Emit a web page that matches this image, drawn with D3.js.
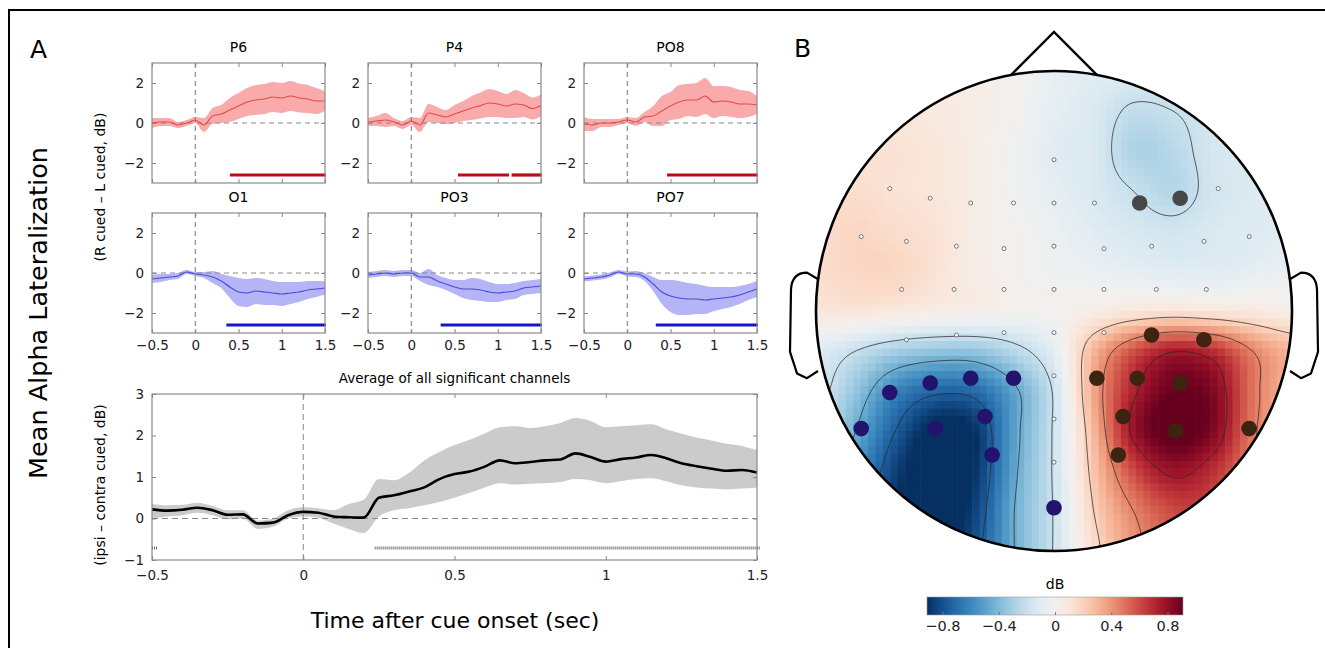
<!DOCTYPE html>
<html>
<head>
<meta charset="utf-8">
<script src="https://cdn.jsdelivr.net/npm/d3@7"></script>
<style>
body { margin: 0; background: #fff; }
svg { display: block; font-family: 'DejaVu Sans', Lato, sans-serif; }
</style>
</head>
<body>
<svg id="fig" width="1325" height="648"></svg>
<script>
// ---- panel A: single channels (time in s, dB) ----
var tSmall = [-0.5, -0.4, -0.3, -0.2, -0.1, 0, 0.1, 0.2, 0.3, 0.4, 0.5, 0.6, 0.7, 0.8, 0.9, 1, 1.1, 1.2, 1.3, 1.4, 1.5];
var channels = ['P6', 'P4', 'PO8', 'O1', 'PO3', 'PO7'];

var p6Mean = [0.0, 0.05, 0.05, -0.1, 0.0, 0.15, -0.1, 0.35, 0.45, 0.65, 0.85, 1.05, 1.15, 1.2, 1.3, 1.25, 1.35, 1.25, 1.2, 1.1, 1.1];
var p6Err = [0.25, 0.2, 0.2, 0.15, 0.15, 0.15, 0.35, 0.4, 0.45, 0.6, 0.65, 0.7, 0.75, 0.75, 0.75, 0.75, 0.75, 0.72, 0.7, 0.65, 0.5];
var p4Mean = [0.05, 0.1, 0.15, 0.05, -0.1, 0.1, -0.1, 0.5, 0.4, 0.3, 0.45, 0.6, 0.75, 0.87, 1.0, 0.95, 0.85, 0.95, 0.9, 0.72, 0.87];
var p4Err = [0.2, 0.25, 0.35, 0.2, 0.2, 0.2, 0.35, 0.45, 0.4, 0.35, 0.45, 0.5, 0.6, 0.65, 0.7, 0.65, 0.6, 0.7, 0.6, 0.55, 0.55];
var po8Mean = [-0.05, -0.1, 0.0, 0.0, 0.05, 0.15, 0.05, 0.3, 0.35, 0.6, 0.85, 1.05, 1.15, 1.15, 1.35, 1.05, 1.1, 1.05, 0.95, 0.95, 0.9];
var po8Err = [0.35, 0.3, 0.2, 0.2, 0.15, 0.15, 0.2, 0.25, 0.5, 0.75, 0.7, 0.85, 0.8, 0.85, 0.9, 0.8, 0.75, 0.75, 0.7, 0.65, 0.45];
var o1Mean = [-0.3, -0.25, -0.2, -0.15, 0.05, -0.05, -0.1, -0.2, -0.4, -0.7, -0.95, -1.0, -0.9, -0.95, -1.0, -1.05, -1.0, -0.95, -0.85, -0.8, -0.75];
var o1Err = [0.2, 0.2, 0.15, 0.15, 0.1, 0.1, 0.15, 0.3, 0.35, 0.55, 0.7, 0.7, 0.65, 0.65, 0.6, 0.6, 0.55, 0.5, 0.45, 0.4, 0.33];
var po3Mean = [-0.1, -0.05, 0.0, -0.05, 0.0, 0.0, -0.2, -0.2, -0.4, -0.55, -0.7, -0.8, -0.8, -0.85, -0.95, -1.0, -0.95, -0.9, -0.75, -0.7, -0.65];
var po3Err = [0.15, 0.15, 0.15, 0.15, 0.15, 0.15, 0.2, 0.4, 0.3, 0.3, 0.35, 0.45, 0.55, 0.55, 0.5, 0.45, 0.4, 0.4, 0.35, 0.35, 0.35];
var po7Mean = [-0.3, -0.25, -0.2, -0.1, 0.05, -0.05, -0.05, -0.2, -0.55, -0.95, -1.15, -1.25, -1.3, -1.3, -1.35, -1.3, -1.25, -1.2, -1.1, -0.95, -0.8];
var po7Err = [0.12, 0.12, 0.12, 0.12, 0.1, 0.12, 0.15, 0.2, 0.35, 0.6, 0.8, 0.85, 0.8, 0.75, 0.7, 0.6, 0.55, 0.5, 0.45, 0.4, 0.4];

// significant time windows (s)
var p6Sig = [[0.40, 1.51]];
var p4Sig = [[0.54, 1.13], [1.16, 1.51]];
var po8Sig = [[0.46, 1.51]];
var o1Sig = [[0.36, 1.51]];
var po3Sig = [[0.34, 1.51]];
var po7Sig = [[0.33, 1.51]];

// ---- panel A: average of significant channels ----
var tAvg = [-0.5, -0.45, -0.4, -0.35, -0.3, -0.25, -0.2, -0.15, -0.1, -0.05, 0, 0.05, 0.1, 0.15, 0.2, 0.25, 0.3, 0.35, 0.4, 0.45, 0.5,
            0.55, 0.6, 0.65, 0.7, 0.75, 0.8, 0.85, 0.9, 0.95, 1, 1.05, 1.1, 1.15, 1.2, 1.25, 1.3, 1.35, 1.4, 1.45, 1.5];
var avgMean = [0.22, 0.19, 0.21, 0.26, 0.2, 0.09, 0.1, -0.12, -0.1, 0.08, 0.16, 0.14, 0.05, 0.03, 0.02, 0.5, 0.56, 0.65, 0.75, 0.95, 1.07,
               1.13, 1.25, 1.4, 1.33, 1.36, 1.4, 1.42, 1.57, 1.48, 1.37, 1.43, 1.47, 1.53, 1.45, 1.33, 1.26, 1.2, 1.15, 1.17, 1.11];
var avgUpper = [0.35, 0.32, 0.33, 0.38, 0.3, 0.2, 0.2, -0.05, 0.0, 0.2, 0.27, 0.25, 0.2, 0.35, 0.45, 0.95, 0.92, 1.1, 1.4, 1.6, 1.77,
                1.9, 2.05, 2.2, 2.22, 2.18, 2.22, 2.3, 2.42, 2.35, 2.2, 2.22, 2.25, 2.27, 2.15, 2.05, 1.95, 1.88, 1.8, 1.75, 1.65];
var avgLower = [0.0, 0.05, 0.08, 0.14, 0.08, -0.02, 0.0, -0.25, -0.2, 0.0, 0.05, 0.02, -0.12, -0.25, -0.35, 0.05, 0.2, 0.25, 0.32, 0.4, 0.5,
                0.62, 0.75, 0.85, 0.82, 0.84, 0.85, 0.88, 0.95, 0.92, 0.85, 0.9, 0.95, 0.97, 0.9, 0.8, 0.75, 0.72, 0.7, 0.72, 0.75];
var avgSig = [[-0.5, -0.48], [0.236, 1.51]];

var xTicks = [-0.5, 0, 0.5, 1, 1.5];

// ---- panel B: topography (dB), 13 x 13 grid over the head, rows front to back ----
var topoGrid = [
  [0.1, 0.1, 0.1, 0.08, 0.05, 0.0, -0.06, -0.1, -0.12, -0.12, -0.12, -0.1, -0.1],
  [0.12, 0.12, 0.1, 0.08, 0.05, 0.0, -0.08, -0.13, -0.22, -0.2, -0.15, -0.12, -0.1],
  [0.12, 0.12, 0.12, 0.1, 0.05, -0.02, -0.1, -0.13, -0.28, -0.25, -0.15, -0.12, -0.1],
  [0.15, 0.15, 0.12, 0.1, 0.05, -0.02, -0.08, -0.13, -0.2, -0.26, -0.16, -0.12, -0.1],
  [0.15, 0.18, 0.15, 0.12, 0.05, 0.0, -0.05, -0.1, -0.14, -0.16, -0.13, -0.11, -0.1],
  [0.15, 0.18, 0.18, 0.12, 0.05, 0.0, -0.03, -0.05, -0.08, -0.1, -0.1, -0.08, -0.05],
  [0.1, 0.1, 0.08, 0.05, 0.03, 0.0, 0.0, 0.05, 0.1, 0.12, 0.1, 0.08, 0.05],
  [-0.1, -0.2, -0.3, -0.35, -0.35, -0.25, -0.08, 0.3, 0.58, 0.74, 0.68, 0.45, 0.3],
  [-0.15, -0.35, -0.6, -0.72, -0.7, -0.48, -0.18, 0.35, 0.72, 0.9, 0.85, 0.5, 0.3],
  [-0.2, -0.45, -0.75, -0.95, -0.9, -0.5, -0.18, 0.3, 0.78, 0.95, 0.85, 0.48, 0.3],
  [-0.3, -0.55, -0.85, -1.0, -0.9, -0.48, -0.18, 0.25, 0.6, 0.78, 0.68, 0.45, 0.3],
  [-0.3, -0.6, -0.9, -1.0, -0.85, -0.45, -0.19, 0.2, 0.45, 0.6, 0.6, 0.4, 0.3],
  [-0.3, -0.6, -0.85, -0.95, -0.8, -0.45, -0.19, 0.15, 0.4, 0.55, 0.55, 0.4, 0.3]
];
var contourLevels = [-0.75, -0.45, -0.2, 0.2, 0.45, 0.75];

// electrode positions in head units (-1..1)
var elecOther = [[0, -0.63], [-0.69, -0.51], [-0.52, -0.47], [-0.35, -0.45], [-0.17, -0.45], [0, -0.45], [0.17, -0.45], [0.69, -0.51],
  [-0.81, -0.31], [-0.62, -0.29], [-0.41, -0.27], [-0.21, -0.26], [0, -0.27], [0.21, -0.26], [0.41, -0.27], [0.63, -0.29], [0.82, -0.31],
  [-0.64, -0.09], [-0.42, -0.09], [-0.21, -0.09], [0, -0.09], [0.21, -0.09], [0.43, -0.09], [0.64, -0.09],
  [-0.62, 0.12], [-0.41, 0.10], [-0.21, 0.09], [0, 0.09], [0.21, 0.09], [0, 0.27], [0, 0.45], [0, 0.63]];
var elecFrontal = [[0.36, -0.45], [0.53, -0.47]];
var elecLeft = [[-0.69, 0.34], [-0.52, 0.30], [-0.35, 0.28], [-0.17, 0.28], [-0.81, 0.49], [-0.50, 0.49], [-0.29, 0.44], [-0.26, 0.60], [0, 0.82]];
var elecRight = [[0.41, 0.10], [0.63, 0.12], [0.18, 0.28], [0.35, 0.28], [0.53, 0.30], [0.29, 0.44], [0.51, 0.50], [0.82, 0.49], [0.27, 0.60]];

var cbarTicks = [-0.8, -0.4, 0, 0.4, 0.8];

var svg = d3.select('#fig');

// frame
svg.append('rect')
    .attr('x', 9).attr('y', 10)
    .attr('width', 1340).attr('height', 660)
    .style('fill', 'none').style('stroke', '#000').style('stroke-width', 2);

svg.append('text').attr('x', 30).attr('y', 58).text('A')
    .style('font-size', '25px');
svg.append('text').attr('x', 794).attr('y', 57).text('B')
    .style('font-size', '25px');

svg.append('text')
    .attr('transform', 'translate(47,313) rotate(-90)')
    .attr('text-anchor', 'middle')
    .style('font-size', '25.5px')
    .text('Mean Alpha Lateralization');
svg.append('text')
    .attr('transform', 'translate(105,187) rotate(-90)')
    .attr('text-anchor', 'middle')
    .style('font-size', '14px')
    .text('(R cued \u2013 L cued, dB)');
svg.append('text')
    .attr('transform', 'translate(105,485) rotate(-90)')
    .attr('text-anchor', 'middle')
    .style('font-size', '14px')
    .text('(ipsi \u2013 contra cued, dB)');

// ---- small panels ----
var panelX = [152, 368, 584];
var panelY = [63, 213];
var pw = 173, ph = 120;

var xS = d3.scaleLinear().domain([-0.5, 1.5]).range([0, pw]);
var yS = d3.scaleLinear().domain([-3, 3]).range([ph, 0]);

var chanData = [
  {mean: p6Mean, err: p6Err, sig: p6Sig},
  {mean: p4Mean, err: p4Err, sig: p4Sig},
  {mean: po8Mean, err: po8Err, sig: po8Sig},
  {mean: o1Mean, err: o1Err, sig: o1Sig},
  {mean: po3Mean, err: po3Err, sig: po3Sig},
  {mean: po7Mean, err: po7Err, sig: po7Sig}
];

var fmt = d3.format('~g');

function boxAxes(g, x, y, yTicks, showX, xPad) {
    var w = x.range()[1], h = y.range()[0];
    g.append('g')
        .call(d3.axisLeft(y).tickValues(yTicks).tickSize(-4).tickPadding(8).tickFormat(fmt));
    g.append('g').attr('transform', 'translate(' + w + ',0)')
        .call(d3.axisRight(y).tickValues(yTicks).tickSize(-4).tickFormat(''));
    g.append('g').attr('transform', 'translate(0,' + h + ')')
        .call(d3.axisBottom(x).tickValues(xTicks).tickSize(-4).tickPadding(xPad).tickFormat(showX ? fmt : ''));
    g.append('g')
        .call(d3.axisTop(x).tickValues(xTicks).tickSize(-4).tickFormat(''));
    g.selectAll('.domain').remove();
    g.selectAll('.tick line').style('stroke', '#888');
    g.selectAll('.tick text').style('font-size', '13.5px').style('fill', '#222').style('font-family', "'DejaVu Sans', sans-serif");
    g.append('rect')
        .attr('width', w).attr('height', h)
        .style('fill', 'none').style('stroke', '#8a8a8a').style('stroke-width', 1.2);
}

channels.forEach(function(name, k) {
    var col = k % 3, row = Math.floor(k / 3);
    var d = chanData[k];
    var isRight = row == 0;
    var bandCol = isRight ? '#f9abab' : '#b4b4f6';
    var lineCol = isRight ? '#e84848' : '#4a4ade';
    var barCol = isRight ? '#bb0c16' : '#1616c8';

    var g = svg.append('g')
        .attr('transform', 'translate(' + panelX[col] + ',' + panelY[row] + ')');

    var pts = tSmall.map(function(t, i) { return {t: t, m: d.mean[i], e: d.err[i]}; });

    g.append('path')
        .datum(pts)
        .attr('d', d3.area()
            .x(function(p) { return xS(p.t); })
            .y0(function(p) { return yS(p.m - p.e); })
            .y1(function(p) { return yS(p.m + p.e); })
            .curve(d3.curveMonotoneX))
        .style('fill', bandCol);

    g.append('line')
        .attr('x1', 0).attr('x2', pw).attr('y1', yS(0)).attr('y2', yS(0))
        .style('stroke', '#888').style('stroke-dasharray', '5,4');
    g.append('line')
        .attr('x1', xS(0)).attr('x2', xS(0)).attr('y1', 0).attr('y2', ph)
        .style('stroke', '#777').style('stroke-dasharray', '5,4');

    g.append('path')
        .datum(pts)
        .attr('d', d3.line()
            .x(function(p) { return xS(p.t); })
            .y(function(p) { return yS(p.m); })
            .curve(d3.curveMonotoneX))
        .style('fill', 'none').style('stroke', lineCol).style('stroke-width', 1.1);

    g.selectAll('.sig')
        .data(d.sig)
        .enter()
        .append('line')
        .attr('class', 'sig')
        .attr('x1', function(s) { return xS(s[0]); })
        .attr('x2', function(s) { return xS(s[1]); })
        .attr('y1', yS(-2.6)).attr('y2', yS(-2.6))
        .style('stroke', barCol).style('stroke-width', 3.2);

    boxAxes(g, xS, yS, [-2, 0, 2], row == 1, 7);

    g.append('text')
        .attr('x', pw / 2).attr('y', -11)
        .attr('text-anchor', 'middle')
        .style('font-size', '14px')
        .text(name);
});

// ---- average panel ----
var bx = 152, by = 394, bw = 605, bh = 166;
var xB = d3.scaleLinear().domain([-0.5, 1.5]).range([0, bw]);
var yB = d3.scaleLinear().domain([-1, 3]).range([bh, 0]);
var gB = svg.append('g').attr('transform', 'translate(' + bx + ',' + by + ')');

var avgPts = tAvg.map(function(t, i) { return {t: t, m: avgMean[i], lo: avgLower[i], hi: avgUpper[i]}; });

gB.append('path')
    .datum(avgPts)
    .attr('d', d3.area()
        .x(function(p) { return xB(p.t); })
        .y0(function(p) { return yB(p.lo); })
        .y1(function(p) { return yB(p.hi); })
        .curve(d3.curveMonotoneX))
    .style('fill', '#cbcbcb');

gB.append('line')
    .attr('x1', 0).attr('x2', bw).attr('y1', yB(0)).attr('y2', yB(0))
    .style('stroke', '#888').style('stroke-dasharray', '6,4');
gB.append('line')
    .attr('x1', xB(0)).attr('x2', xB(0)).attr('y1', 0).attr('y2', bh)
    .style('stroke', '#888').style('stroke-dasharray', '6,4');

gB.append('path')
    .datum(avgPts)
    .attr('d', d3.line()
        .x(function(p) { return xB(p.t); })
        .y(function(p) { return yB(p.m); })
        .curve(d3.curveMonotoneX))
    .style('fill', 'none').style('stroke', '#000').style('stroke-width', 2.6);

gB.selectAll('.sig')
    .data(avgSig)
    .enter()
    .append('line')
    .attr('class', 'sig')
    .attr('x1', function(s) { return xB(s[0]); })
    .attr('x2', function(s) { return xB(s[1]); })
    .attr('y1', yB(-0.71)).attr('y2', yB(-0.71))
    .style('stroke', '#6a6a6a').style('stroke-width', 3).style('stroke-dasharray', '1,1');

boxAxes(gB, xB, yB, [-1, 0, 1, 2, 3], true, 10);

gB.append('text')
    .attr('x', xB(0.5)).attr('y', -11)
    .attr('text-anchor', 'middle')
    .style('font-size', '13.5px')
    .text('Average of all significant channels');

svg.append('text')
    .attr('x', 455).attr('y', 628)
    .attr('text-anchor', 'middle')
    .style('font-size', '22px')
    .text('Time after cue onset (sec)');

// ---- panel B: head ----
var cx = 1054, cy = 311, rx = 238, ry = 240;
var hx = d3.scaleLinear().domain([-1, 1]).range([cx - rx, cx + rx]);
var hy = d3.scaleLinear().domain([-1, 1]).range([cy - ry, cy + ry]);
var color = d3.scaleDiverging([-0.91, 0, 0.91], function(t) { return d3.interpolateRdBu(1 - t); }).clamp(true);

function cubic(p0, p1, p2, p3, t) {
    return p1 + 0.5 * t * (p2 - p0 + t * (2 * p0 - 5 * p1 + 4 * p2 - p3 + t * (3 * (p1 - p2) + p3 - p0)));
}
function topoValue(u, v) {
    var n = topoGrid.length - 1;
    var gi = Math.max(0, Math.min(n, (u + 1) * n / 2));
    var gj = Math.max(0, Math.min(n, (v + 1) * n / 2));
    var i = Math.min(n - 1, Math.floor(gi)), j = Math.min(n - 1, Math.floor(gj));
    var fx = gi - i, fy = gj - j;
    function cl(a) { return Math.max(0, Math.min(n, a)); }
    var rows = [-1, 0, 1, 2].map(function(dj) {
        var r = topoGrid[cl(j + dj)];
        return cubic(r[cl(i - 1)], r[cl(i)], r[cl(i + 1)], r[cl(i + 2)], fx);
    });
    return cubic(rows[0], rows[1], rows[2], rows[3], fy);
}

svg.append('clipPath').attr('id', 'headclip')
    .append('ellipse').attr('cx', cx).attr('cy', cy).attr('rx', rx).attr('ry', ry);

var gHead = svg.append('g').attr('clip-path', 'url(#headclip)');

var nCell = 64;
var cells = [];
for (var j = 0; j < nCell; j++) {
    for (var i = 0; i < nCell; i++) {
        var u = -1 + (i + 0.5) * 2 / nCell, v = -1 + (j + 0.5) * 2 / nCell;
        cells.push({i: i, j: j, val: topoValue(u, v)});
    }
}
var cw = 2 / nCell;
gHead.selectAll('rect.cell')
    .data(cells)
    .enter()
    .append('rect')
    .attr('class', 'cell')
    .attr('x', function(c) { return hx(-1 + c.i * cw); })
    .attr('y', function(c) { return hy(-1 + c.j * cw); })
    .attr('width', hx(cw) - hx(0) + 0.6)
    .attr('height', hy(cw) - hy(0) + 0.6)
    .style('fill', function(c) { return color(c.val); });

// contour lines on a finer grid
var nC = 180, uMin = -1.1, dC = 2.2 / nC;
var cVals = [];
for (var j2 = 0; j2 < nC; j2++) {
    for (var i2 = 0; i2 < nC; i2++) {
        cVals.push(topoValue(uMin + (i2 + 0.5) * dC, uMin + (j2 + 0.5) * dC));
    }
}
var conts = d3.contours().size([nC, nC]).thresholds(contourLevels)(cVals);
var proj = d3.geoTransform({point: function(x, y) {
    this.stream.point(hx(uMin + x * dC), hy(uMin + y * dC));
}});
gHead.selectAll('path.cont')
    .data(conts)
    .enter()
    .append('path')
    .attr('class', 'cont')
    .attr('d', d3.geoPath(proj))
    .style('fill', 'none').style('stroke', '#2a2a2a').style('stroke-width', 0.9).style('stroke-opacity', 0.85);

// head outline, nose, ears
svg.append('ellipse')
    .attr('cx', cx).attr('cy', cy).attr('rx', rx).attr('ry', ry)
    .style('fill', 'none').style('stroke', '#000').style('stroke-width', 2.6);

svg.append('path')
    .attr('d', 'M' + hx(-0.18) + ',' + hy(-0.984) + 'L' + hx(0) + ',' + (hy(-1) - 39) + 'L' + hx(0.18) + ',' + hy(-0.984))
    .style('fill', 'none').style('stroke', '#000').style('stroke-width', 2.4).style('stroke-linejoin', 'miter');

[-1, 1].forEach(function(side) {
    var o = function(dx) { return cx + side * (rx - 3 + dx); };
    var p = d3.path();
    p.moveTo(o(0), hy(-0.13));
    p.lineTo(o(12), hy(-0.16));
    p.quadraticCurveTo(o(27), hy(-0.16), o(28), hy(-0.09));
    p.lineTo(o(29), hy(0.17));
    p.lineTo(o(22), hy(0.26));
    p.lineTo(o(12), hy(0.28));
    p.lineTo(o(1), hy(0.25));
    svg.append('path').attr('d', p.toString())
        .style('fill', 'none').style('stroke', '#000').style('stroke-width', 2.2).style('stroke-linejoin', 'round');
});

// electrodes
svg.selectAll('circle.small')
    .data(elecOther).enter().append('circle')
    .attr('class', 'small')
    .attr('cx', function(e) { return hx(e[0]); })
    .attr('cy', function(e) { return hy(e[1]); })
    .attr('r', 2)
    .style('fill', '#fff').style('stroke', '#666').style('stroke-width', 0.9);

function bigDots(data, fill) {
    svg.append('g').selectAll('circle')
        .data(data).enter().append('circle')
        .attr('cx', function(e) { return hx(e[0]); })
        .attr('cy', function(e) { return hy(e[1]); })
        .attr('r', 7.8)
        .style('fill', fill);
}
bigDots(elecFrontal, '#474747');
bigDots(elecLeft, '#22146c');
bigDots(elecRight, '#3d2410');

// colorbar
var cbx = d3.scaleLinear().domain([-0.91, 0.91]).range([927, 1183]);
var grad = svg.append('defs').append('linearGradient').attr('id', 'cbgrad');
grad.selectAll('stop')
    .data(d3.range(0, 1.0001, 0.05))
    .enter().append('stop')
    .attr('offset', function(t) { return t; })
    .attr('stop-color', function(t) { return color(-0.91 + t * 1.82); });

svg.append('rect')
    .attr('x', cbx(-0.91)).attr('y', 597)
    .attr('width', cbx(0.91) - cbx(-0.91)).attr('height', 18)
    .style('fill', 'url(#cbgrad)').style('stroke', '#999').style('stroke-width', 0.6);

var cbAxis = svg.append('g').attr('transform', 'translate(0,615)')
    .call(d3.axisBottom(cbx).tickValues(cbarTicks).tickSize(-3).tickPadding(6).tickFormat(fmt));
cbAxis.select('.domain').remove();
cbAxis.selectAll('.tick line').style('stroke', '#777');
cbAxis.selectAll('.tick text').style('font-size', '14.5px').style('fill', '#222').style('font-family', "'DejaVu Sans', sans-serif");

svg.append('text')
    .attr('x', cbx(0)).attr('y', 589)
    .attr('text-anchor', 'middle')
    .style('font-size', '14px')
    .text('dB');
</script>
</body>
</html>
